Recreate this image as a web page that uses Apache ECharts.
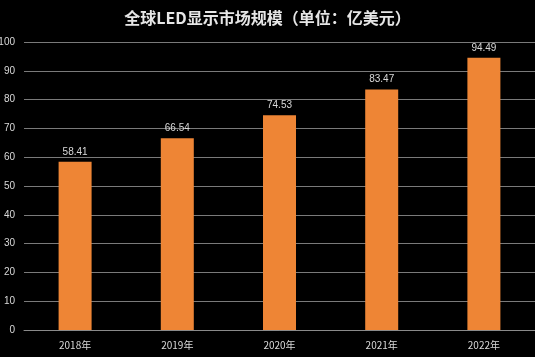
<!DOCTYPE html>
<html>
<head>
<meta charset="utf-8">
<script src="https://cdn.jsdelivr.net/npm/echarts@6/dist/echarts.min.js"></script>
<style>
html,body{margin:0;padding:0;background:#000;}
#c{width:535px;height:357px;}
</style>
</head>
<body>
<div id="c"></div>
<script>
var categories = ['2018年','2019年','2020年','2021年','2022年'];
var values = [58.41, 66.54, 74.53, 83.47, 94.49];
var titleText = '全球LED显示市场规模（单位：亿美元）';

var chart = echarts.init(document.getElementById('c'));
chart.setOption({
  backgroundColor: '#000',
  animation: false,
  title: {
    text: titleText,
    left: 'center',
    top: 5,
    textStyle: {color: '#e6e6e6', fontSize: 16, fontWeight: 'bold', fontFamily: 'Noto Sans CJK SC'}
  },
  grid: {left: 24, right: 0, top: 42, bottom: 27, containLabel: false, outerBoundsMode: 'none'},
  xAxis: {
    type: 'category',
    data: categories,
    axisLine: {lineStyle: {color: '#8a8a8a', width: 1}},
    axisTick: {show: false},
    axisLabel: {color: '#d9d9d9', fontSize: 10, margin: 10, fontFamily: 'Noto Sans CJK SC'}
  },
  yAxis: {
    type: 'value',
    min: 0, max: 100, interval: 10,
    axisLine: {show: false},
    axisTick: {show: false},
    splitLine: {lineStyle: {color: '#7a7a7a', width: 1}},
    axisLabel: {color: '#d9d9d9', fontSize: 10, margin: 9, fontFamily: 'Liberation Sans'}
  },
  series: [{
    type: 'bar',
    data: values,
    barWidth: 33,
    itemStyle: {color: '#EE8535'},
    label: {show: true, position: 'top', color: '#d9d9d9', fontSize: 10, distance: 5, fontFamily: 'Liberation Sans'}
  }]
});
</script>
</body>
</html>
